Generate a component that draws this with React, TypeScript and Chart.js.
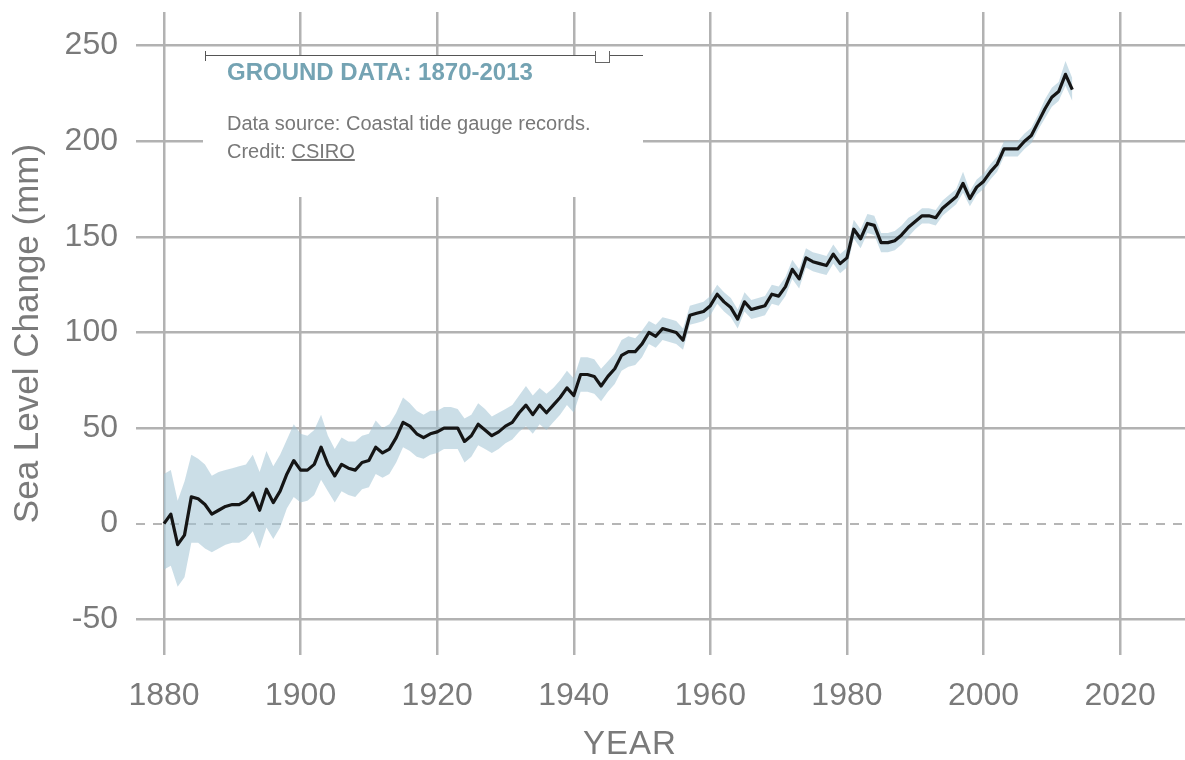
import React, { useEffect, useRef } from 'react';
import { Chart, registerables } from 'chart.js';

Chart.register(...registerables);

const years = [
  1880, 1881, 1882, 1883, 1884, 1885, 1886, 1887, 1888, 1889,
  1890, 1891, 1892, 1893, 1894, 1895, 1896, 1897, 1898, 1899,
  1900, 1901, 1902, 1903, 1904, 1905, 1906, 1907, 1908, 1909,
  1910, 1911, 1912, 1913, 1914, 1915, 1916, 1917, 1918, 1919,
  1920, 1921, 1922, 1923, 1924, 1925, 1926, 1927, 1928, 1929,
  1930, 1931, 1932, 1933, 1934, 1935, 1936, 1937, 1938, 1939,
  1940, 1941, 1942, 1943, 1944, 1945, 1946, 1947, 1948, 1949,
  1950, 1951, 1952, 1953, 1954, 1955, 1956, 1957, 1958, 1959,
  1960, 1961, 1962, 1963, 1964, 1965, 1966, 1967, 1968, 1969,
  1970, 1971, 1972, 1973, 1974, 1975, 1976, 1977, 1978, 1979,
  1980, 1981, 1982, 1983, 1984, 1985, 1986, 1987, 1988, 1989,
  1990, 1991, 1992, 1993, 1994, 1995, 1996, 1997, 1998, 1999,
  2000, 2001, 2002, 2003, 2004, 2005, 2006, 2007, 2008, 2009,
  2010, 2011, 2012, 2013,
];

// Sea level change (mm)
const seaLevel = [
  0, 5, -11, -6, 14, 13, 10, 5, 7, 9,
  10, 10, 12, 16, 7, 18, 11, 17, 26, 33,
  28, 28, 31, 40, 31, 25, 31, 29, 28, 32,
  33, 40, 37, 39, 45, 53, 51, 47, 45, 47,
  48, 50, 50, 50, 43, 46, 52, 49, 46, 48,
  51, 53, 58, 62, 57, 62, 58, 62, 66, 71,
  67, 78, 78, 77, 72, 77, 81, 88, 90, 90,
  94, 100, 98, 102, 101, 100, 96, 109, 110, 111,
  114, 120, 116, 113, 107, 116, 112, 113, 114, 120,
  119, 124, 133, 128, 139, 137, 136, 135, 141, 136,
  139, 154, 149, 157, 156, 147, 147, 148, 151, 155,
  158, 161, 161, 160, 165, 168, 171, 178, 170, 176,
  179, 184, 188, 196, 196, 196, 200, 203, 210, 217,
  223, 226, 235, 227,
];

const lowerBound = [
  -24, -22, -33, -28, -10, -10, -13, -15, -13, -11,
  -10, -10, -8, -4, -13, -2, -8, -2, 8, 14,
  11, 12, 15, 23, 17, 11, 17, 15, 14, 18,
  19, 26, 24, 26, 32, 40, 38, 35, 34, 36,
  37, 39, 39, 39, 32, 35, 41, 39, 37, 39,
  42, 44, 48, 51, 47, 52, 49, 53, 57, 62,
  58, 69, 69, 68, 64, 69, 73, 80, 82, 83,
  87, 94, 92, 96, 95, 94, 91, 104, 105, 106,
  109, 115, 111, 108, 102, 111, 107, 108, 109, 115,
  114, 119, 128, 123, 134, 132, 131, 130, 136, 131,
  134, 149, 144, 152, 151, 142, 142, 143, 146, 150,
  154, 157, 157, 156, 161, 164, 167, 173, 166, 172,
  175, 180, 184, 192, 192, 192, 196, 199, 206, 212,
  218, 221, 229, 221,
];

const upperBound = [
  26, 28, 12, 22, 36, 34, 31, 25, 27, 28,
  29, 30, 31, 36, 27, 38, 30, 36, 44, 52,
  47, 46, 49, 57, 46, 39, 45, 43, 43, 46,
  47, 54, 50, 52, 58, 66, 63, 59, 57, 59,
  59, 61, 61, 60, 55, 57, 63, 60, 56, 58,
  60, 62, 67, 72, 67, 71, 68, 71, 75, 80,
  76, 87, 87, 86, 81, 85, 89, 96, 98, 97,
  101, 106, 104, 108, 107, 106, 102, 114, 115, 116,
  119, 125, 121, 118, 112, 121, 117, 118, 119, 125,
  124, 129, 138, 133, 144, 142, 141, 140, 146, 141,
  144, 159, 154, 162, 161, 152, 152, 153, 156, 160,
  162, 165, 165, 164, 169, 172, 175, 184, 174, 180,
  183, 188, 192, 200, 200, 200, 204, 207, 214, 222,
  228, 231, 242, 233,
];

const xTickValues = [1880, 1900, 1920, 1940, 1960, 1980, 2000, 2020];
const yTickValues = [-50, 0, 50, 100, 150, 200, 250];

const FONT = '"Liberation Sans", Arial, Helvetica, sans-serif';
const LABEL_GRAY = '#7a7a7a';
const GRID_GRAY = '#b2b2b2';

export default function App() {
  const canvasRef = useRef<HTMLCanvasElement | null>(null);

  useEffect(() => {
    const canvas = canvasRef.current;
    if (!canvas) return;
    const toPoints = (arr: number[]) => years.map((yr, i) => ({ x: yr, y: arr[i] }));

    const chart = new Chart(canvas, {
      type: 'line',
      data: {
        datasets: [
          {
            label: 'Sea level',
            data: toPoints(seaLevel),
            borderColor: '#151515',
            borderWidth: 3.2,
            pointRadius: 0,
            tension: 0,
            fill: false,
            order: 0,
            borderJoinStyle: 'round',
          } as any,
          {
            label: 'Upper',
            data: toPoints(upperBound),
            borderWidth: 0,
            borderColor: 'rgba(0,0,0,0)',
            pointRadius: 0,
            tension: 0,
            fill: '+1',
            backgroundColor: 'rgba(160,195,212,0.55)',
            order: 1,
          },
          {
            label: 'Lower',
            data: toPoints(lowerBound),
            borderWidth: 0,
            borderColor: 'rgba(0,0,0,0)',
            pointRadius: 0,
            tension: 0,
            fill: false,
            order: 1,
          },
        ],
      },
      options: {
        responsive: false,
        animation: false,
        devicePixelRatio: 1,
        layout: { padding: { top: 12, left: 0, right: 0, bottom: 0 } },
        plugins: { legend: { display: false }, tooltip: { enabled: false } },
        scales: {
          x: {
            type: 'linear',
            min: 1875.9,
            max: 2029.5,
            afterBuildTicks: (s: any) => {
              s.ticks = xTickValues.map((v) => ({ value: v }));
            },
            afterFit: (s: any) => {
              s.height = 105;
              s.paddingLeft = 0;
              s.paddingRight = 0;
            },
            grid: { color: GRID_GRAY, lineWidth: 2.5, drawTicks: false },
            border: { display: false },
            ticks: {
              color: LABEL_GRAY,
              font: { family: FONT, size: 32 },
              padding: 22,
              maxRotation: 0,
              autoSkip: false,
              callback: (v: any) => String(v),
            },
            title: { display: false },
          },
          y: {
            type: 'linear',
            min: -68.7,
            max: 267.6,
            afterBuildTicks: (s: any) => {
              s.ticks = yTickValues.map((v) => ({ value: v }));
            },
            afterFit: (s: any) => {
              s.width = 136;
              s.paddingTop = 0;
              s.paddingBottom = 0;
            },
            grid: {
              color: (ctx: any) => (ctx.tick && ctx.tick.value === 0 ? '#b5b5b5' : GRID_GRAY),
              lineWidth: (ctx: any) => (ctx.tick && ctx.tick.value === 0 ? 2 : 2.5),
              drawTicks: false,
            },
            border: {
              display: false,
              dash: (ctx: any) => (ctx.tick && ctx.tick.value === 0 ? [9, 8] : []),
            } as any,
            ticks: {
              color: LABEL_GRAY,
              font: { family: FONT, size: 32 },
              padding: 18,
              autoSkip: false,
              callback: (v: any) => String(v),
            },
            title: {
              display: true,
              text: 'Sea Level Change (mm)',
              color: LABEL_GRAY,
              font: { family: FONT, size: 35, lineHeight: 1.2 },
              padding: { top: 7, bottom: 0 },
            },
          },
        },
      } as any,
    });
    return () => chart.destroy();
  }, []);

  return (
    <div style={{ position: 'absolute', left: 0, top: 0, width: 1185, height: 760, background: '#fff', overflow: 'hidden' }}>
      <canvas
        ref={canvasRef}
        width={1185}
        height={760}
        style={{ position: 'absolute', left: 0, top: 0, width: 1185, height: 760 }}
      />
      <div
        style={{
          position: 'absolute',
          left: 530,
          top: 723,
          width: 200,
          textAlign: 'center',
          fontFamily: FONT,
          fontSize: 33,
          lineHeight: '40px',
          color: LABEL_GRAY,
          letterSpacing: 1,
        }}
      >
        YEAR
      </div>
      <div style={{ position: 'absolute', left: 203, top: 55, width: 440, height: 142, background: '#fff' }}>
        <div style={{ position: 'absolute', left: 2, top: 0, width: 438, height: 1, background: '#555' }} />
        <div style={{ position: 'absolute', left: 2, top: -4, width: 1, height: 10, background: '#555' }} />
        <div
          style={{
            position: 'absolute',
            left: 392,
            top: -4,
            width: 15,
            height: 12,
            boxSizing: 'border-box',
            background: '#fff',
            borderLeft: '1px solid #666',
            borderRight: '1px solid #666',
            borderBottom: '1px solid #666',
          }}
        />
        <div
          style={{
            position: 'absolute',
            left: 24,
            top: 5.4,
            whiteSpace: 'nowrap',
            fontFamily: FONT,
            fontWeight: 'bold',
            fontSize: 24,
            lineHeight: '24px',
            color: '#74a3b3',
          }}
        >
          GROUND DATA: 1870-2013
        </div>
        <div
          style={{
            position: 'absolute',
            left: 24,
            top: 54,
            whiteSpace: 'nowrap',
            fontFamily: FONT,
            fontSize: 20,
            lineHeight: '28px',
            color: '#787878',
          }}
        >
          <div>Data source: Coastal tide gauge records.</div>
          <div>
            Credit: <span style={{ textDecoration: 'underline' }}>CSIRO</span>
          </div>
        </div>
      </div>
    </div>
  );
}
